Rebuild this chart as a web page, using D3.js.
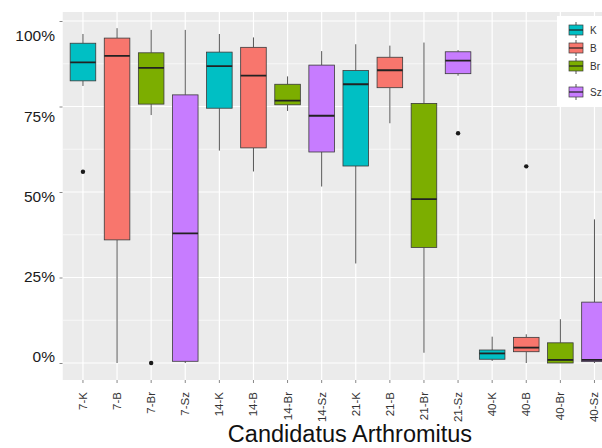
<!DOCTYPE html>
<html>
<head>
<meta charset="utf-8">
<script src="https://cdn.jsdelivr.net/npm/d3@7"></script>
<style>
  body { margin: 0; background: #fff; }
  svg { display: block; font-family: "Liberation Sans", Arial, sans-serif; }
</style>
</head>
<body>
<div id="container"></div>
<script>
// box stats per sample, in percent
const categories = ["7-K", "7-B", "7-Br", "7-Sz", "14-K", "14-B", "14-Br", "14-Sz",
    "21-K", "21-B", "21-Br", "21-Sz", "40-K", "40-B", "40-Br", "40-Sz"];
const groups = ["K", "B", "Br", "Sz"];
const groupColors = ["#00BFC4", "#F8766D", "#7CAE00", "#C77CFF"];
const whiskerHigh = [96.2, 97.9, 97.4, 97.4, 96.2, 95.2, 83.8, 91.2, 93.2, 92.8, 93.7, 91.5, 7.7, 8.4, 12.8, 42.0];
const q3 = [93.5, 95.0, 90.7, 78.4, 90.9, 92.3, 81.5, 87.1, 85.5, 89.4, 75.9, 91.0, 3.8, 7.5, 5.9, 17.8];
const median = [87.9, 89.8, 86.3, 37.9, 86.8, 84.0, 76.7, 72.3, 81.5, 85.6, 47.9, 88.4, 2.8, 4.5, 0.9, 0.9];
const q1 = [82.5, 36.0, 75.7, 0.5, 74.5, 62.9, 75.5, 61.7, 57.6, 80.5, 33.8, 84.6, 1.1, 3.3, 0, 0.4];
const whiskerLow = [81.0, 0, 72.5, 0, 62.1, 56.0, 73.7, 51.6, 29.1, 70.1, 3.0, 84.0, 0.6, 0, 0, 0];
const outliers = [["7-K", 55.9], ["7-Br", 0], ["21-Sz", 67.2], ["40-B", 57.5]];
const yTicks = [0, 25, 50, 75, 100];
const xTitle = "Candidatus Arthromitus";

const W = 602, H = 448;
const panel = {left: 62.5, right: 615, top: 12, bottom: 380};

const svg = d3.select("#container").append("svg")
    .attr("width", W)
    .attr("height", H);
svg.append("rect").attr("width", W).attr("height", H).attr("fill", "#fff");

const step = 34.1;
const x = d3.scaleBand()
    .domain(categories)
    .range([panel.left + 0.1 * step, panel.left + 16.1 * step])
    .paddingInner(0).paddingOuter(0);
const y = d3.scaleLinear().domain([0, 100]).range([363, 21]);
// the tick labels in the source image sit a bit off the grid
const yLabel = d3.scaleLinear().domain([0, 100]).range([357, 36]);
const color = d3.scaleOrdinal(groups, groupColors);
const groupOf = c => c.split("-")[1];

svg.append("defs").append("clipPath").attr("id", "clip")
    .append("rect")
    .attr("x", panel.left).attr("y", panel.top)
    .attr("width", panel.right - panel.left)
    .attr("height", panel.bottom - panel.top);

const plot = svg.append("g").attr("clip-path", "url(#clip)");
plot.append("rect")
    .attr("x", panel.left).attr("y", panel.top)
    .attr("width", panel.right - panel.left)
    .attr("height", panel.bottom - panel.top)
    .attr("fill", "#EBEBEB");

// grid
const minor = d3.range(-12.5, 113, 25);
plot.append("g").selectAll("line").data(minor).join("line")
    .attr("x1", panel.left).attr("x2", panel.right)
    .attr("y1", d => y(d)).attr("y2", d => y(d))
    .attr("stroke", "#fff").attr("stroke-width", 0.6);
plot.append("g").selectAll("line").data(yTicks).join("line")
    .attr("x1", panel.left).attr("x2", panel.right)
    .attr("y1", d => y(d)).attr("y2", d => y(d))
    .attr("stroke", "#fff").attr("stroke-width", 1.2);
plot.append("g").selectAll("line").data(categories).join("line")
    .attr("x1", d => x(d) + x.bandwidth() / 2).attr("x2", d => x(d) + x.bandwidth() / 2)
    .attr("y1", panel.top).attr("y2", panel.bottom)
    .attr("stroke", "#fff").attr("stroke-width", 1.2);

// boxes
const boxes = categories.map((c, i) => ({
    c, g: groupOf(c), lo: whiskerLow[i], q1: q1[i], med: median[i], q3: q3[i], hi: whiskerHigh[i]
}));
const bw = x.bandwidth() * 0.75;
const box = plot.append("g").selectAll("g").data(boxes).join("g")
    .attr("transform", d => `translate(${x(d.c) + x.bandwidth() / 2},0)`);
box.append("line")
    .attr("y1", d => y(d.hi)).attr("y2", d => y(d.q3))
    .attr("stroke", "#555").attr("stroke-width", 1);
box.append("line")
    .attr("y1", d => y(d.q1)).attr("y2", d => y(d.lo))
    .attr("stroke", "#555").attr("stroke-width", 1);
box.append("rect")
    .attr("x", -bw / 2).attr("width", bw)
    .attr("y", d => y(d.q3))
    .attr("height", d => Math.max(1, y(d.q1) - y(d.q3)))
    .attr("fill", d => color(d.g))
    .attr("stroke", "#3a3a3a").attr("stroke-width", 0.8);
box.append("line")
    .attr("x1", -bw / 2).attr("x2", bw / 2)
    .attr("y1", d => y(d.med)).attr("y2", d => y(d.med))
    .attr("stroke", "#222").attr("stroke-width", 1.8);

plot.append("g").selectAll("circle").data(outliers).join("circle")
    .attr("cx", d => x(d[0]) + x.bandwidth() / 2)
    .attr("cy", d => y(d[1]))
    .attr("r", 2.2)
    .attr("fill", "#1a1a1a");

// y axis: tick marks on the grid, labels as in the image
svg.append("g")
    .attr("transform", `translate(${panel.left},0)`)
    .call(d3.axisLeft(y).tickValues(yTicks).tickSize(3).tickFormat(""))
    .call(g => g.select(".domain").remove())
    .call(g => g.selectAll("line").attr("stroke", "#888"));
svg.append("g")
    .attr("transform", "translate(55,0)")
    .call(d3.axisLeft(yLabel).tickValues(yTicks).tickSize(0).tickPadding(0).tickFormat(d => d + "%"))
    .call(g => g.select(".domain").remove())
    .call(g => g.selectAll("text")
        .attr("font-family", "Liberation Sans, Arial, sans-serif")
        .attr("font-size", 15.5)
        .attr("fill", "#1a1a1a"));

// x axis
svg.append("g")
    .attr("transform", `translate(0,${panel.bottom})`)
    .call(d3.axisBottom(x).tickSize(3))
    .call(g => g.select(".domain").remove())
    .call(g => g.selectAll("line").attr("stroke", "#888"))
    .call(g => g.selectAll("text")
        .attr("transform", "rotate(-90)")
        .attr("text-anchor", "end")
        .attr("x", -12).attr("y", 0).attr("dy", "0.35em")
        .attr("font-family", "Liberation Sans, Arial, sans-serif")
        .attr("font-size", 11.5)
        .attr("fill", "#333"));

svg.append("text")
    .attr("x", 350).attr("y", 442)
    .attr("text-anchor", "middle")
    .attr("font-size", 23.5)
    .attr("fill", "#111")
    .text(xTitle);

// legend
const legend = svg.append("g");
legend.append("rect")
    .attr("x", 557).attr("y", 16).attr("width", 50).attr("height", 91)
    .attr("fill", "#fff");
const legendY = [30, 48, 66, 92];
const key = legend.selectAll("g.key").data(groups).join("g")
    .attr("class", "key")
    .attr("transform", (d, i) => `translate(576,${legendY[i]})`);
key.append("line").attr("y1", -8).attr("y2", 8).attr("stroke", "#555");
key.append("rect")
    .attr("x", -7).attr("y", -5).attr("width", 14).attr("height", 10)
    .attr("fill", d => color(d)).attr("stroke", "#3a3a3a").attr("stroke-width", 0.7);
key.append("line").attr("x1", -7).attr("x2", 7).attr("stroke", "#222").attr("stroke-width", 1.2);
key.append("text")
    .attr("x", 14).attr("dy", "0.35em")
    .attr("font-size", 10).attr("fill", "#333")
    .text(d => d);
</script>
</body>
</html>
